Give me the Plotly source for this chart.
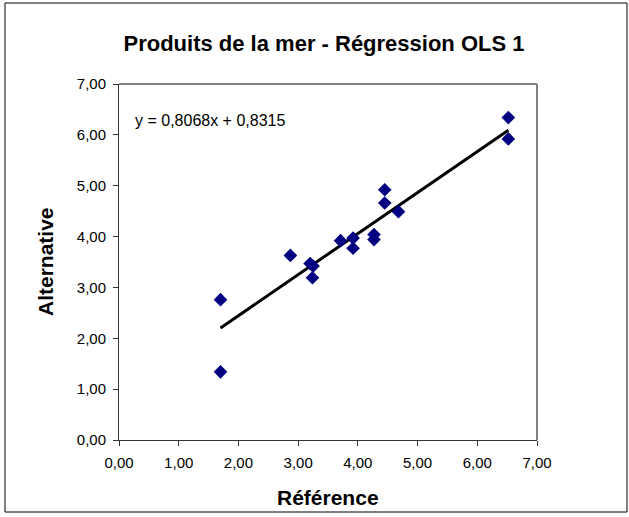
import plotly.graph_objects as go

# Data
reference = [1.70, 1.70, 2.87, 3.20, 3.25, 3.24, 3.71, 3.92, 3.92, 4.27, 4.27, 4.45, 4.45, 4.68, 6.52, 6.52]
alternative = [2.76, 1.34, 3.63, 3.47, 3.42, 3.19, 3.92, 3.97, 3.77, 4.04, 3.94, 4.92, 4.66, 4.49, 6.34, 5.92]
slope = 0.8068
intercept = 0.8315
tick_vals = [0, 1, 2, 3, 4, 5, 6, 7]
tick_text = ["0,00", "1,00", "2,00", "3,00", "4,00", "5,00", "6,00", "7,00"]

title_text = "Produits de la mer - Régression OLS 1"
x_title = "Référence"
y_title = "Alternative"
equation = "y = 0,8068x + 0,8315"

FONT = "Liberation Sans, Arial, sans-serif"

xmin, xmax = min(reference), max(reference)
trend_x = [xmin, xmax]
trend_y = [slope * v + intercept for v in trend_x]

fig = go.Figure()
fig.add_trace(go.Scatter(
    x=trend_x, y=trend_y, mode="lines",
    line=dict(color="#000000", width=3),
    hoverinfo="skip", showlegend=False,
))
fig.add_trace(go.Scatter(
    x=reference, y=alternative, mode="markers",
    marker=dict(symbol="diamond", size=10.5, color="#000080",
                line=dict(width=0)),
    showlegend=False,
))

L, R, T, B = 119, 92, 84, 77
W, H = 629, 517
pw, ph = W - L - R, H - T - B

def px_to_paper_x(px):
    return (px - L) / pw

def px_to_paper_y(py):
    return (H - B - py) / ph

fig.update_layout(
    width=W, height=H,
    margin=dict(l=L, r=R, t=T, b=B),
    paper_bgcolor="white", plot_bgcolor="white",
    font=dict(family=FONT, color="#000000"),
    title=dict(text="<b>" + title_text + "</b>", x=px_to_paper_x(324),
               xanchor="center", xref="paper",
               y=1 - 43 / H, yanchor="middle",
               font=dict(size=22, family=FONT, color="#000000")),
    xaxis=dict(range=[0, 7], tickvals=tick_vals, ticktext=tick_text,
               showgrid=False, zeroline=False,
               showline=True, linecolor="#333333", linewidth=1,
               ticks="outside", ticklen=5, tickcolor="#333333",
               ticklabelstandoff=4,
               tickfont=dict(size=15, family=FONT),
               mirror=False, fixedrange=True),
    yaxis=dict(range=[0, 7], tickvals=tick_vals, ticktext=tick_text,
               showgrid=False, zeroline=False,
               showline=True, linecolor="#333333", linewidth=1,
               ticks="outside", ticklen=5, tickcolor="#333333",
               ticklabelstandoff=4,
               tickfont=dict(size=15, family=FONT),
               fixedrange=True),
    shapes=[
        # plot area top/right border (gray)
        dict(type="line", xref="paper", yref="paper", x0=0, x1=1, y0=1, y1=1,
             line=dict(color="#808080", width=2)),
        dict(type="line", xref="paper", yref="paper", x0=1, x1=1, y0=0, y1=1,
             line=dict(color="#808080", width=2)),
        # outer chart frame
        dict(type="rect", xref="paper", yref="paper",
             x0=px_to_paper_x(5), x1=px_to_paper_x(627),
             y0=px_to_paper_y(512), y1=px_to_paper_y(3),
             line=dict(color="#000000", width=1), layer="below"),
    ],
    annotations=[
        dict(text=equation, xref="paper", yref="paper",
             x=px_to_paper_x(133), y=px_to_paper_y(120),
             xanchor="left", yanchor="middle", showarrow=False,
             font=dict(size=16, family=FONT, color="#000000")),
        dict(text="<b>" + x_title + "</b>", xref="paper", yref="paper",
             x=px_to_paper_x(328), y=px_to_paper_y(497),
             xanchor="center", yanchor="middle", showarrow=False,
             font=dict(size=21, family=FONT, color="#000000")),
        dict(text="<b>" + y_title + "</b>", xref="paper", yref="paper",
             x=px_to_paper_x(45), y=px_to_paper_y(262), textangle=-90,
             xanchor="center", yanchor="middle", showarrow=False,
             font=dict(size=21, family=FONT, color="#000000")),
    ],
)

fig.write_html("out.html",
               config={"displayModeBar": False},
               post_script="document.body.style.margin='0';document.body.style.padding='0';")
